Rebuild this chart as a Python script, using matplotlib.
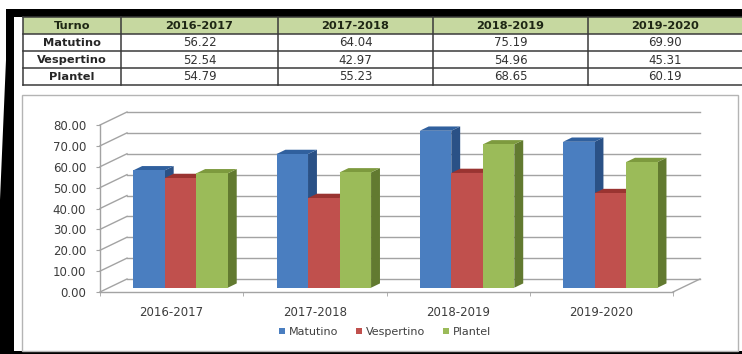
import matplotlib.pyplot as plt
from matplotlib.patches import Polygon, Rectangle, Patch
from matplotlib.ticker import FormatStrFormatter

# Data: average per shift and school year
periods = ['2016-2017', '2017-2018', '2018-2019', '2019-2020']
shifts = ['Matutino', 'Vespertino', 'Plantel']
matutino = [56.22, 64.04, 75.19, 69.90]
vespertino = [52.54, 42.97, 54.96, 45.31]
plantel = [54.79, 55.23, 68.65, 60.19]
series = [matutino, vespertino, plantel]

# front, top and side colours for the 3D look
front_colors = ['#4a7ec0', '#c0504d', '#9bbb59']
top_colors = ['#30609e', '#9a3431', '#7d9a3e']
side_colors = ['#2a5186', '#8a2e2b', '#627a30']

plt.rcParams['font.family'] = ['DejaVu Sans']

W, H = 742, 354
fig = plt.figure(figsize=(W / 100, H / 100), dpi=100)

# page frame in pixel coordinates (black border, table, chart panel)
page = fig.add_axes([0, 0, 1, 1])
page.set_xlim(0, W)
page.set_ylim(H, 0)
page.axis('off')

page.add_patch(Polygon([(6, 9), (W, 9), (W, 17), (14, 17), (14, H), (0, H), (0, 200), (6, 60)],
                       closed=True, color='black', lw=0))
page.add_patch(Rectangle((0, 351), W, 3, color='black', lw=0))

# summary table
col_edges = [23, 121, 278, 433, 588, W + 5]
row_edges = [17, 34, 51, 68, 85]
page.add_patch(Rectangle((col_edges[0], row_edges[0]), W - col_edges[0] + 5, row_edges[1] - row_edges[0],
                         facecolor='#c6d8a0', edgecolor='none'))
for y in row_edges:
    page.plot([col_edges[0], W], [y, y], color='#3a3a3a', lw=1.1)
for x in col_edges[:-1]:
    page.plot([x, x], [row_edges[0], row_edges[-1]], color='#3a3a3a', lw=1.1)

header = ['Turno'] + periods
for j, txt in enumerate(header):
    cx = (col_edges[j] + col_edges[j + 1]) / 2 if j < 4 else 665
    page.text(cx, (row_edges[0] + row_edges[1]) / 2 + 0.5, txt, ha='center', va='center',
              fontsize=8.2, fontweight='bold', color='#1e2614')
for i, name in enumerate(shifts):
    cy = (row_edges[i + 1] + row_edges[i + 2]) / 2 + 0.5
    page.text((col_edges[0] + col_edges[1]) / 2, cy, name, ha='center', va='center',
              fontsize=8.2, fontweight='bold', color='#262626')
    for j, v in enumerate(series[i]):
        cx = (col_edges[j + 1] + col_edges[j + 2]) / 2 if j < 3 else 665
        page.text(cx, cy, f'{v:.2f}', ha='center', va='center', fontsize=8.5, color='#333333')

# chart panel
page.add_patch(Rectangle((22, 95), 716, 256, facecolor='white', edgecolor='#b4b4b4', lw=1))

# chart axes: front of floor runs from x=100 to 673 px, 0..80 between y=292 and 125 px
ax = fig.add_axes([100 / W, (H - 292) / H, 573 / W, 167 / H])
ax.patch.set_alpha(0)
ax.set_xlim(-0.5, len(periods) - 0.5)
ax.set_ylim(0, 80)

DX = 27 / 143.25   # wall depth in x data units
DY = 13 / (167 / 80)  # wall depth in y data units
grid_kw = dict(color='#a3a3a3', lw=1, clip_on=False, zorder=1)
x0, x1 = -0.5, len(periods) - 0.5

yticks = list(range(0, 81, 10))
for v in yticks:
    ax.plot([x0, x0 + DX], [v, v + DY], **grid_kw)
    ax.plot([x0 + DX, x1 + DX], [v + DY, v + DY], **grid_kw)
ax.plot([x1, x1 + DX], [0, DY], **grid_kw)

# 3D bars
bw = 0.22
sx, sy = 0.33 * DX, 0.33 * DY   # bars sit a third of the way into the depth
bx, by = 0.33 * DX, 0.33 * DY   # bar depth
for g in range(len(periods)):
    for i, vals in enumerate(series):
        left = g + (i - 1.5) * bw + sx
        h = vals[g]
        z = 3 + g * 3 + i
        ax.bar(left, h, width=bw, bottom=sy, align='edge', color=front_colors[i],
               lw=0, zorder=z + 0.3, clip_on=False)
        top = sy + h
        ax.add_patch(Polygon([(left, top), (left + bw, top), (left + bw + bx, top + by), (left + bx, top + by)],
                             closed=True, facecolor=top_colors[i], lw=0, zorder=z + 0.2, clip_on=False))
        ax.add_patch(Polygon([(left + bw, sy), (left + bw + bx, sy + by), (left + bw + bx, top + by), (left + bw, top)],
                             closed=True, facecolor=side_colors[i], lw=0, zorder=z + 0.1, clip_on=False))

# axes, ticks and labels
for s in ['top', 'right']:
    ax.spines[s].set_visible(False)
for s in ['left', 'bottom']:
    ax.spines[s].set_color('#a3a3a3')
    ax.spines[s].set_linewidth(1)
    ax.spines[s].set_zorder(2)

ax.set_yticks(yticks)
ax.yaxis.set_major_formatter(FormatStrFormatter('%.2f'))
ax.tick_params(axis='y', length=3, color='#a3a3a3', pad=7, labelsize=8.5, labelcolor='#3c3c3c')
ax.set_xticks(range(len(periods)))
ax.set_xticklabels(periods)
ax.set_xticks([k - 0.5 for k in range(len(periods) + 1)], minor=True)
ax.tick_params(axis='x', which='major', length=0, pad=10, labelsize=8.5, labelcolor='#3c3c3c')
ax.tick_params(axis='x', which='minor', length=3, color='#a3a3a3')

handles = [Patch(facecolor=c, edgecolor='none') for c in front_colors]
fig.legend(handles, shifts, loc='center', bbox_to_anchor=(385 / W, (H - 332) / H), ncol=3,
           frameon=False, fontsize=8, handlelength=0.55, handleheight=0.55,
           handletextpad=0.35, columnspacing=1.6, labelcolor='#404040')

fig.savefig('out.png', dpi=100)
